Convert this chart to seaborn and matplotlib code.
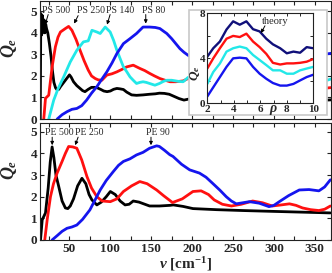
import matplotlib
matplotlib.use("Agg")
import matplotlib.pyplot as plt
import seaborn as sns
import numpy as np
from matplotlib.patches import Rectangle
from matplotlib.ticker import MultipleLocator

# ---------------- data ----------------
# top panel (PS)
ps500_v = [14.3, 15.0, 16.0, 17.0, 18.0, 19.0, 20.0, 21.0, 22.0, 23.5, 25.5, 27.5, 29, 31, 33, 35, 37, 39, 42, 45, 48, 50, 52, 55, 59, 63, 66, 69, 73, 77, 81, 84, 88, 92, 96, 100, 104, 108, 112, 116, 120, 126, 132, 140, 148, 155, 160, 166, 172, 178, 184, 190, 195, 210, 240, 270, 300, 330, 350, 360, 370]
ps500_q = [0.0, 4.9, 3.9, 4.8, 4.1, 4.6, 4.0, 4.4, 4.2, 4.0, 3.5, 2.9, 2.3, 1.7, 1.45, 1.35, 1.38, 1.5, 1.65, 1.8, 1.95, 2.05, 1.95, 1.73, 1.55, 1.42, 1.32, 1.27, 1.38, 1.47, 1.47, 1.45, 1.38, 1.3, 1.27, 1.3, 1.38, 1.42, 1.4, 1.37, 1.25, 1.12, 1.1, 1.12, 1.15, 1.17, 1.2, 1.19, 1.15, 1.05, 0.95, 0.88, 0.92, 0.95, 0.92, 0.95, 0.9, 0.88, 0.85, 0.87, 0.89]

ps250_v = [18.6, 20.7, 24.7, 28.8, 32.8, 36, 39, 42, 45, 49, 53, 58, 63, 68, 73, 77, 81.5, 85, 89.6, 95.7, 102, 108, 114, 120, 128, 136, 142, 148, 154, 160.6, 167, 173, 180, 189, 195, 210, 240, 270, 300, 330, 350, 360, 370]
ps250_q = [0.0, 0.96, 1.11, 2.42, 3.35, 3.8, 4.04, 4.12, 4.2, 4.3, 4.12, 3.7, 3.19, 2.7, 2.27, 2.0, 1.88, 1.82, 1.8, 2.04, 2.1, 2.19, 2.3, 2.42, 2.5, 2.35, 2.25, 2.12, 2.0, 1.88, 1.8, 1.73, 1.73, 1.77, 1.88, 2.0, 1.8, 1.7, 1.6, 1.5, 1.4, 1.42, 1.46]

ps140_v = [24.7, 30.8, 36, 43, 51, 59, 67, 73, 77.5, 83.5, 87.6, 93.7, 99.8, 104, 108, 112, 116, 120, 124, 128, 132, 136, 140, 144, 148, 154.5, 160, 165, 169, 175, 183, 189, 195, 210, 240, 270, 300, 330, 350, 360, 370]
ps140_q = [0.0, 0.88, 1.4, 1.96, 2.65, 3.19, 3.58, 3.63, 4.12, 4.04, 3.97, 4.27, 4.04, 3.65, 3.19, 2.8, 2.42, 2.2, 1.96, 1.8, 1.65, 1.7, 1.73, 1.7, 1.65, 1.57, 1.65, 1.75, 1.8, 1.8, 1.75, 1.73, 1.93, 2.1, 1.9, 1.8, 1.75, 1.7, 1.66, 1.74, 1.86]

ps80_v = [35, 41, 47, 53, 59, 65, 71, 77, 83.5, 89.6, 95.7, 102, 108, 116, 124, 132, 140, 148, 155, 160.6, 166, 169, 175, 180, 185, 190, 195, 210, 240, 270, 300, 330, 350, 360, 370]
ps80_q = [0.0, 0.2, 0.34, 0.45, 0.49, 0.62, 0.88, 1.2, 1.5, 1.85, 2.19, 2.6, 3.04, 3.5, 3.73, 3.97, 4.27, 4.27, 4.25, 4.2, 4.05, 3.97, 3.73, 3.5, 3.27, 3.1, 2.96, 2.7, 2.5, 2.4, 2.5, 2.8, 2.96, 3.0, 3.05]

# bottom panel (PE)
pe500_v = [14.6, 16.7, 20.7, 24, 26.5, 28.8, 31, 33.5, 36.9, 41, 45, 48, 51, 55, 60, 65.3, 70, 74, 77.5, 83.5, 89, 95, 100, 106, 112, 118, 123, 128, 135, 148, 160, 173, 177, 189, 201, 230, 262, 300, 340, 369]
pe500_q = [0.0, 0.93, 1.25, 2.4, 3.6, 4.3, 3.8, 3.0, 2.47, 1.8, 1.48, 1.45, 1.57, 1.9, 2.5, 2.85, 2.6, 2.1, 1.85, 1.62, 1.75, 2.0, 2.24, 2.1, 1.8, 1.62, 1.65, 1.8, 1.75, 1.57, 1.57, 1.6, 1.62, 1.55, 1.45, 1.4, 1.36, 1.32, 1.28, 1.25]

pe250_v = [19.8, 23, 26.8, 30.5, 34.9, 41, 45, 49, 54, 59, 65, 71.4, 77, 83.5, 90, 100, 108, 116, 126, 136, 145, 156.6, 165, 176, 188, 201, 211, 220, 227, 237, 248, 260, 274, 286, 298, 309, 319, 327, 335, 345, 355, 362, 369]
pe250_q = [0.0, 1.0, 2.0, 2.6, 3.09, 3.63, 4.0, 4.32, 4.3, 4.24, 3.7, 2.93, 2.4, 2.0, 1.8, 1.77, 1.9, 2.24, 2.5, 2.7, 2.6, 2.31, 2.05, 1.73, 1.9, 2.24, 2.27, 2.1, 1.85, 1.65, 1.57, 1.65, 1.8, 1.72, 1.57, 1.62, 1.67, 1.6, 1.48, 1.4, 1.36, 1.42, 1.57]

pe90_v = [28.8, 35, 41, 47, 53, 59, 66, 75, 82, 87.6, 95, 103.6, 110, 116, 124, 132, 140, 148, 156.6, 160, 166, 172.7, 176.6, 187, 197, 209, 217, 225, 234, 241.7, 248, 254, 262, 270, 282, 294, 300, 306.6, 318, 331, 343, 355, 362, 369]
pe90_q = [0.0, 0.2, 0.4, 0.54, 0.6, 0.69, 0.95, 1.39, 1.9, 2.31, 2.75, 3.16, 3.45, 3.63, 3.75, 3.93, 4.05, 4.24, 4.35, 4.32, 4.15, 3.94, 3.86, 3.5, 3.24, 3.09, 2.9, 2.62, 2.3, 2.0, 1.8, 1.67, 1.72, 1.77, 1.7, 1.54, 1.6, 1.77, 2.05, 2.31, 2.33, 2.27, 2.45, 2.78]

# inset (theory)
rho = [2.0, 2.45, 2.95, 3.45, 3.95, 4.45, 4.95, 5.45, 5.95, 6.45, 6.95, 7.5, 8.0, 8.5, 9.0, 9.5, 10.0]
th_navy = [4.15, 4.9, 5.5, 6.57, 7.3, 7.0, 7.3, 6.6, 6.4, 5.75, 5.25, 4.9, 4.45, 4.6, 4.5, 5.0, 4.9]
th_red = [3.09, 4.0, 4.9, 5.75, 6.0, 5.9, 6.2, 5.5, 5.0, 4.4, 3.6, 3.45, 3.55, 3.55, 3.6, 3.7, 3.94]
th_cyan = [1.72, 2.78, 3.54, 4.6, 4.9, 5.05, 4.9, 4.3, 3.85, 3.4, 2.93, 2.93, 2.63, 2.63, 2.93, 3.09, 3.24]
th_blue = [0.6, 1.42, 2.33, 3.24, 4.0, 4.06, 4.0, 3.24, 2.63, 2.18, 1.8, 1.57, 1.57, 1.72, 2.03, 2.33, 2.54]

top_labels = ["PS 500", "PS 250", "PS 140", "PS 80"]
bot_labels = ["PE 500", "PE 250", "PE 90"]

# ---------------- style ----------------
sns.set_theme(style="ticks")
plt.rcParams.update({
    "font.family": ["Liberation Serif", "DejaVu Serif"],
    "mathtext.fontset": "custom",
    "mathtext.it": "Liberation Serif:italic:bold",
    "mathtext.rm": "Liberation Serif:bold",
    "mathtext.bf": "Liberation Serif:bold",
    "xtick.direction": "in",
    "ytick.direction": "in",
    "axes.linewidth": 0.8,
    "axes.edgecolor": "#222222",
})

BLACK, RED, CYAN, BLUE, NAVY = "#000000", "#ff1010", "#22e8e8", "#1515ee", "#10107a"
LW = 2.0

fig = plt.figure(figsize=(3.32, 2.73), dpi=100)
ax1 = fig.add_axes([0.1205, 0.564, 0.877, 0.434])
ax2 = fig.add_axes([0.1205, 0.121, 0.877, 0.428])

for v, q, c in [(ps500_v, ps500_q, BLACK), (ps250_v, ps250_q, RED),
                (ps140_v, ps140_q, CYAN), (ps80_v, ps80_q, BLUE)]:
    sns.lineplot(x=v, y=q, color=c, lw=LW, ax=ax1, sort=False, estimator=None)
for v, q, c in [(pe500_v, pe500_q, BLACK), (pe250_v, pe250_q, RED),
                (pe90_v, pe90_q, BLUE)]:
    sns.lineplot(x=v, y=q, color=c, lw=LW, ax=ax2, sort=False, estimator=None)

for ax, ylim in [(ax1, (0, 5.5)), (ax2, (0, 5.4))]:
    ax.set_xlim(14, 370)
    ax.set_ylim(*ylim)
    ax.xaxis.set_major_locator(MultipleLocator(50))
    ax.xaxis.set_minor_locator(MultipleLocator(25))
    ax.yaxis.set_major_locator(MultipleLocator(1))
    ax.tick_params(which="both", top=True, right=True, length=3, width=0.8,
                   labelsize=9.5, pad=2, color="#222222")
    ax.tick_params(which="minor", length=3)
    for lab in ax.get_xticklabels() + ax.get_yticklabels():
        lab.set_fontweight("bold")
    ax.set_ylabel(r"$Q_e$", fontsize=13, labelpad=3)
    ax.set_xlabel("")

ax1.tick_params(labelbottom=False)
ax2.set_xlabel(r"$\nu\ [\mathrm{cm}^{-1}]$", fontsize=11, labelpad=0)
ax1.yaxis.set_label_coords(-0.072, 0.6)
ax2.yaxis.set_label_coords(-0.072, 0.6)

arrow = dict(arrowstyle="-|>", color="black", lw=0.7, mutation_scale=5,
             shrinkA=0, shrinkB=0)
# top annotations
top_text_x = [16.7, 59.4, 94.8, 138.8]
for lab, tx in zip(top_labels, top_text_x):
    ax1.text(tx, 5.03, lab, fontsize=7, va="center", ha="left")
for (x0, y0, x1, y1) in [(24.0, 4.85, 20.3, 4.38), (60.6, 4.8, 55.7, 4.43),
                         (99.7, 4.85, 96.0, 4.38), (143.3, 4.85, 143.3, 4.43)]:
    ax1.annotate("", xy=(x1, y1), xytext=(x0, y0), arrowprops=arrow)

bot_text_x = [20.3, 57.0, 143.6]
for lab, tx in zip(bot_labels, bot_text_x):
    ax2.text(tx, 4.98, lab, fontsize=7, va="center", ha="left")
for (x0, y0, x1, y1) in [(28.9, 4.75, 28.9, 4.38), (60.6, 4.75, 57.0, 4.38),
                         (149.7, 4.75, 149.7, 4.38)]:
    ax2.annotate("", xy=(x1, y1), xytext=(x0, y0), arrowprops=arrow)

# inset background box
box = Rectangle((0.569, 0.579), 0.416, 0.385, transform=fig.transFigure,
                facecolor="white", edgecolor="#c8c8c8", lw=1.2, zorder=1)
fig.patches.append(box)

axi = fig.add_axes([0.6244, 0.622, 0.3193, 0.3286])
axi.set_zorder(2)
axi.set_facecolor("white")
for q, c in [(th_navy, NAVY), (th_red, RED), (th_cyan, CYAN), (th_blue, BLUE)]:
    sns.lineplot(x=rho, y=q, color=c, lw=1.7, ax=axi, sort=False, estimator=None)
axi.set_xlim(2, 10)
axi.set_ylim(0, 8)
axi.xaxis.set_major_locator(MultipleLocator(2))
axi.xaxis.set_minor_locator(MultipleLocator(1))
axi.yaxis.set_major_locator(MultipleLocator(4))
axi.yaxis.set_minor_locator(MultipleLocator(2))
axi.tick_params(which="both", top=True, right=True, length=2.5, width=0.7,
                labelsize=8, pad=1.5)
for lab in axi.get_xticklabels() + axi.get_yticklabels():
    lab.set_fontweight("bold")
axi.set_xlabel(r"$\rho$", fontsize=10)
axi.xaxis.label.set_va("center")
axi.xaxis.set_label_coords(0.625, -0.08)
axi.set_ylabel(r"$Q_e$", fontsize=9.5)
axi.yaxis.set_label_coords(-0.05, 0.33)
axi.text(6.13, 7.27, "theory", fontsize=7.5, va="center", ha="left")
axi.annotate("", xy=(6.05, 6.25), xytext=(6.35, 6.9), arrowprops=arrow)

fig.savefig("out.png", dpi=100)
